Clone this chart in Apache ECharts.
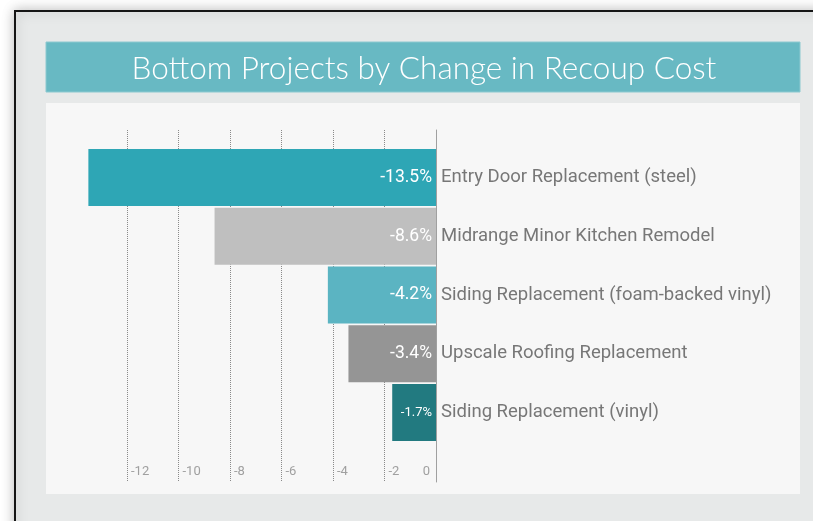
<!DOCTYPE html>
<html>
<head>
<meta charset="utf-8">
<script src="https://cdn.jsdelivr.net/npm/echarts@6/dist/echarts.min.js"></script>
<style>
html,body{margin:0;padding:0;background:#fff;}
#chart{width:813px;height:521px;}
</style>
</head>
<body>
<div id="chart"></div>
<script>
var titleText = 'Bottom Projects by Change in Recoup Cost';
var categories = [
  'Entry Door Replacement (steel)',
  'Midrange Minor Kitchen Remodel',
  'Siding Replacement (foam-backed vinyl)',
  'Upscale Roofing Replacement',
  'Siding Replacement (vinyl)'
];
var values = [-13.5, -8.6, -4.2, -3.4, -1.7];
var barColors = ['#2ea6b5', '#bfbfbf', '#5bb4c2', '#959595', '#227a80'];
var axisMin = -14, axisMax = 0, axisStep = 2;

var chart = echarts.init(document.getElementById('chart'));
var font = 'Roboto';

var data = values.map(function (v, i) {
  return {
    value: v,
    itemStyle: { color: barColors[i] },
    label: { fontSize: Math.abs(v) < 2 ? 13 : 17.5 }
  };
});

chart.setOption({
  animation: false,
  backgroundColor: '#ffffff',
  graphic: [
    { type: 'rect', shape: { x: 15, y: 11, width: 830, height: 540 },
      style: { fill: '#e7e9e9', stroke: '#151515', lineWidth: 2,
               shadowBlur: 12, shadowColor: 'rgba(0,0,0,0.25)' }, z: -10 },
    { type: 'rect', shape: { x: 46, y: 42, width: 754, height: 50 },
      style: { fill: '#68b9c3', stroke: '#8cc9d0', lineWidth: 1 }, z: -9 },
    { type: 'rect', shape: { x: 46, y: 103, width: 754, height: 391 },
      style: { fill: '#f7f7f7' }, z: -9 }
  ],
  title: {
    text: titleText,
    left: 419, top: 48, textAlign: 'center',
    textStyle: { color: '#ffffff', fontFamily: 'Lato', fontWeight: 300, fontSize: 31.5 }
  },
  grid: [
    { left: 75.5, right: 377, top: 130, bottom: 39 },
    { left: 75.5, right: 377, top: 148, bottom: 79 },
    { left: 75.5, right: 377, top: 130, bottom: 39 }
  ],
  xAxis: [
    { gridIndex: 0, type: 'value', min: axisMin, max: axisMax, interval: axisStep,
      axisLine: { show: false }, axisTick: { show: false },
      splitLine: { show: true, showMinLine: false, showMaxLine: false,
                   lineStyle: { color: '#8a8a8a', type: [1, 1], width: 1 } },
      axisLabel: { inside: true, margin: 4, align: 'left', padding: [0, 0, 0, 4],
                   showMinLabel: false, showMaxLabel: false,
                   color: '#a0a0a0', fontFamily: font, fontSize: 13 } },
    { gridIndex: 1, type: 'value', min: axisMin, max: axisMax, interval: axisStep,
      show: false },
    { gridIndex: 2, type: 'value', min: axisMin, max: axisMax, interval: axisStep,
      axisLine: { show: false }, axisTick: { show: false }, splitLine: { show: false },
      axisLabel: { inside: true, margin: 4, align: 'right', padding: [0, 6, 0, 0],
                   showMinLabel: false,
                   formatter: function (v) { return v === 0 ? '0' : ''; },
                   color: '#a0a0a0', fontFamily: font, fontSize: 13 } }
  ],
  yAxis: [
    { gridIndex: 0, type: 'value', position: 'right',
      axisLine: { show: true, lineStyle: { color: '#a0a0a0', width: 1 } },
      axisTick: { show: false }, axisLabel: { show: false }, splitLine: { show: false } },
    { gridIndex: 1, type: 'category', data: categories, inverse: true, position: 'right',
      axisLine: { show: false }, axisTick: { show: false }, splitLine: { show: false },
      axisLabel: { margin: 5, color: '#777777', fontFamily: font, fontSize: 18.5,
                   padding: [3, 0, 0, 0] } },
    { gridIndex: 2, type: 'value', show: false }
  ],
  series: [
    { type: 'bar', xAxisIndex: 1, yAxisIndex: 1, data: data,
      barCategoryGap: '3%',
      label: { show: true, position: 'insideRight', distance: 4, color: '#ffffff',
               fontFamily: font, padding: [3, 0, 0, 0],
               formatter: function (p) { return p.value + '%'; } } }
  ]
});
</script>
</body>
</html>
